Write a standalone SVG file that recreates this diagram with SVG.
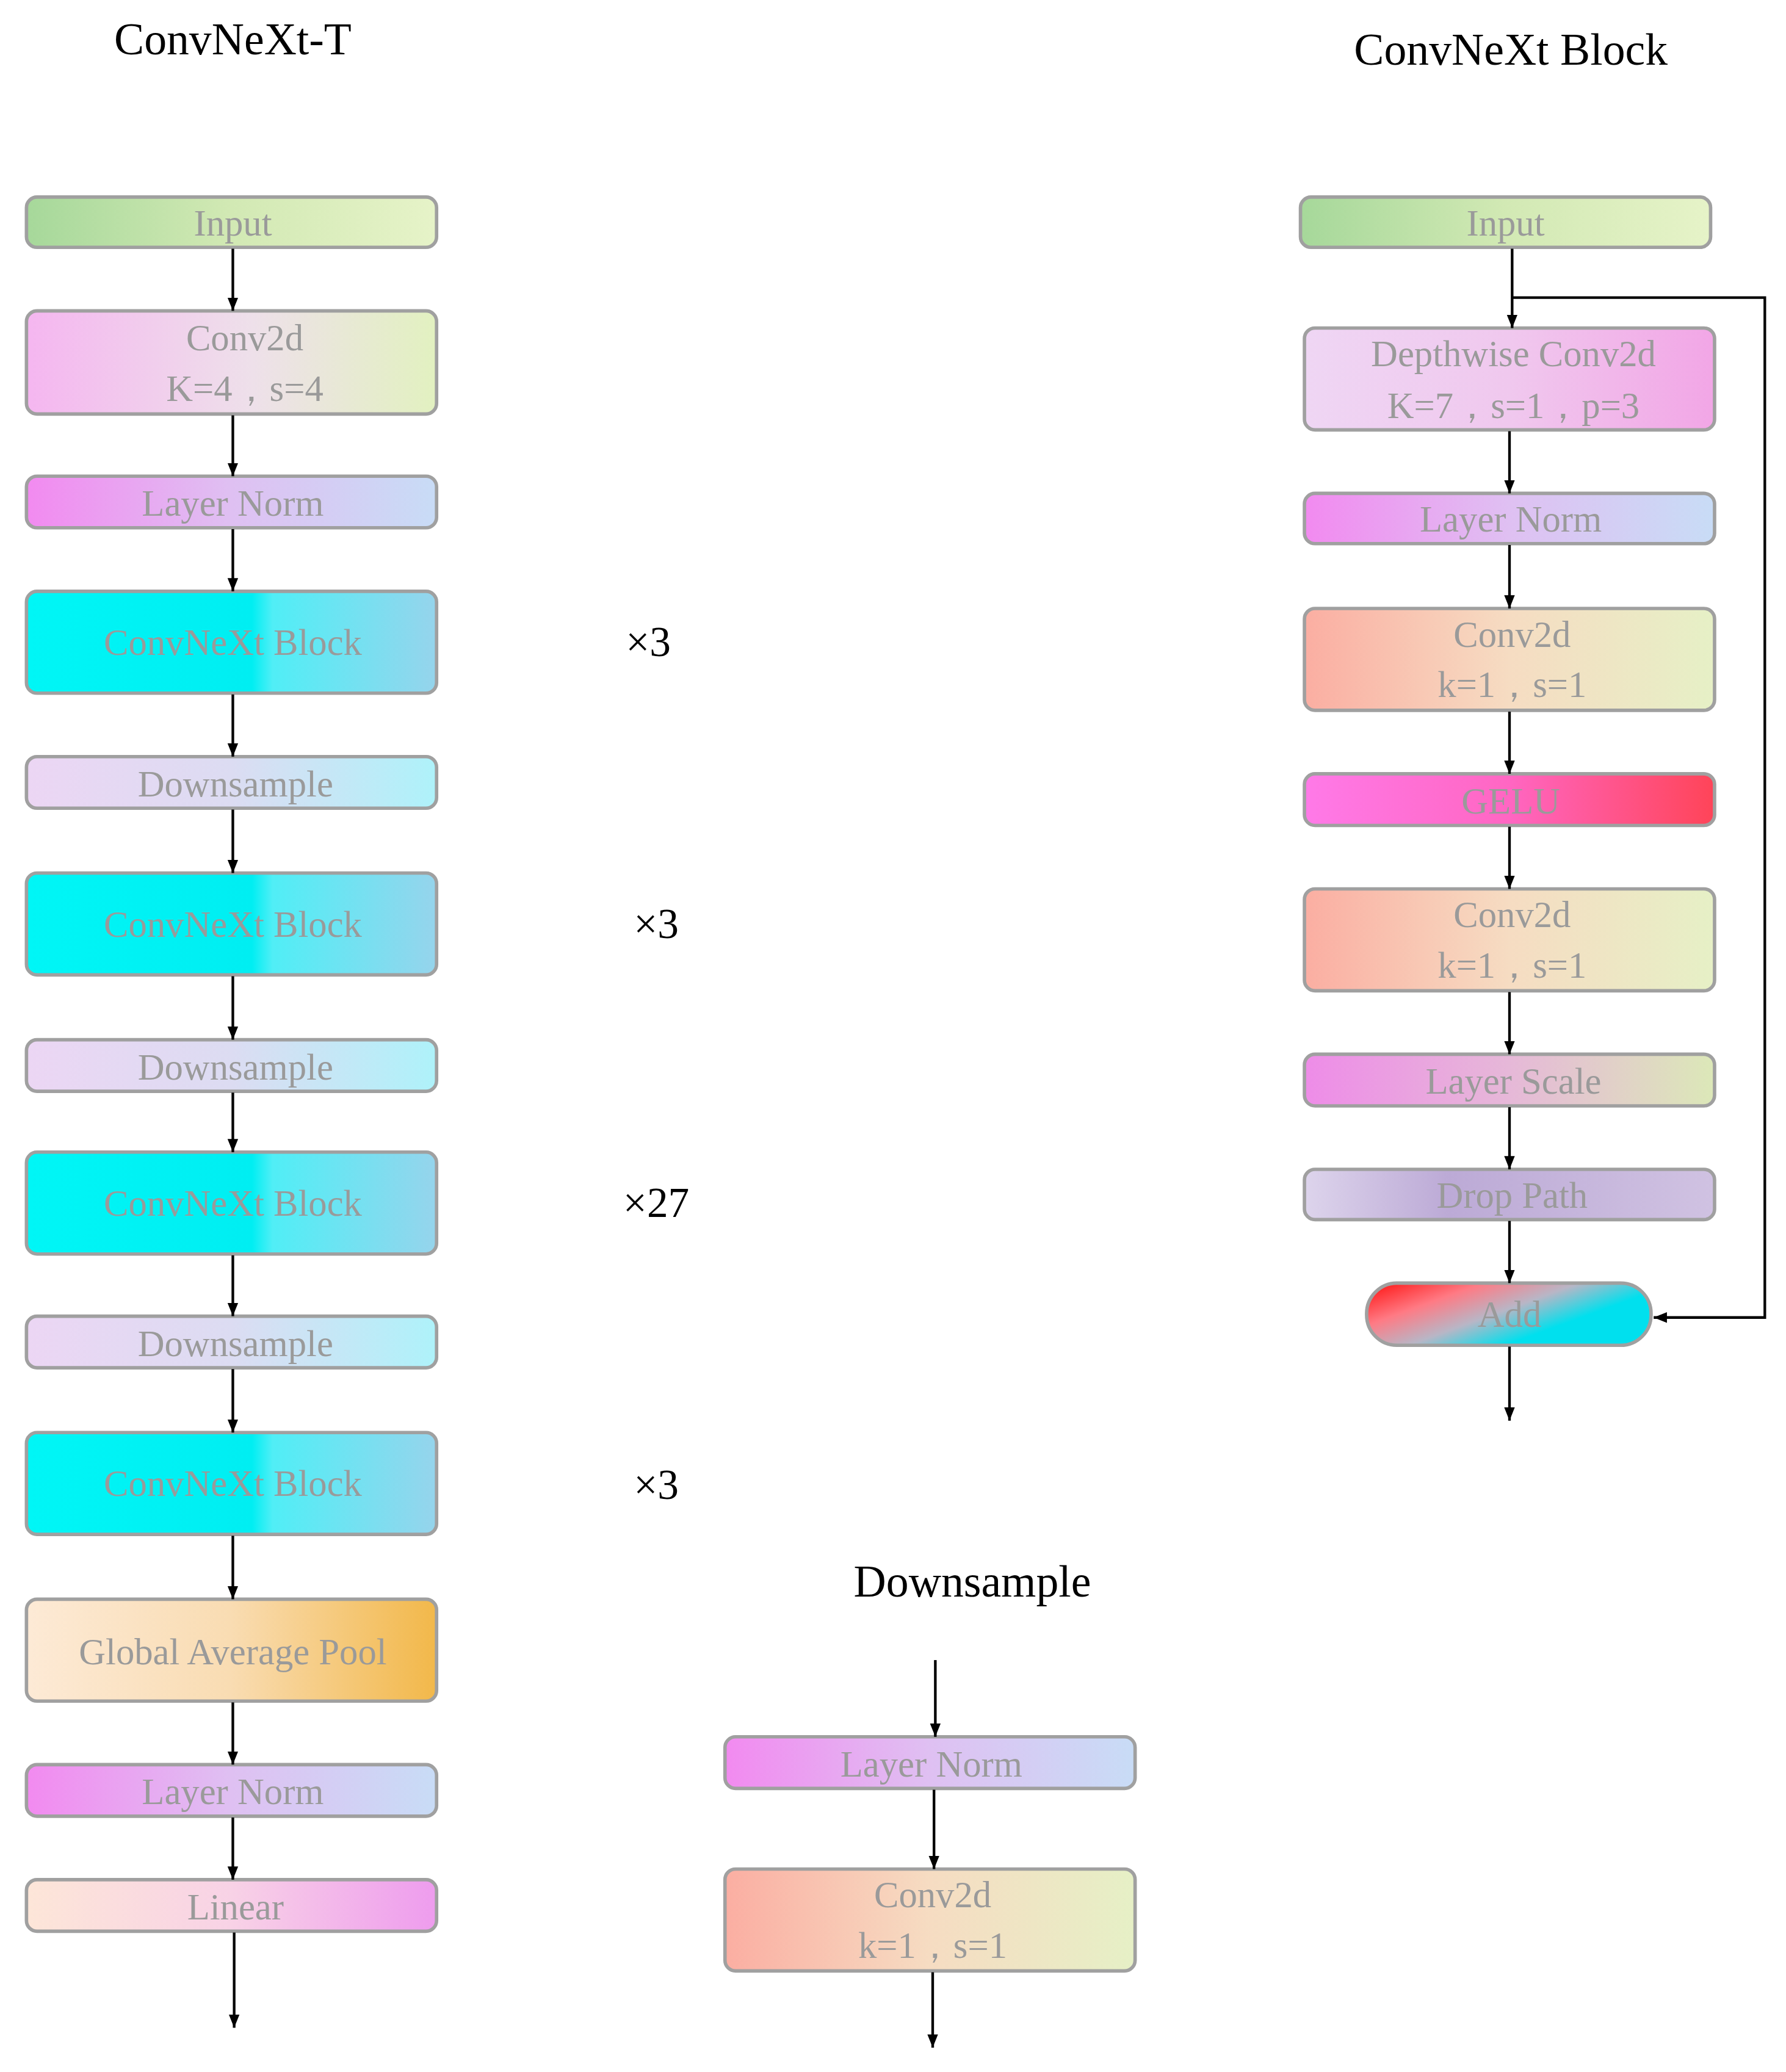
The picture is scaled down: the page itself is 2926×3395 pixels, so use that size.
<svg xmlns="http://www.w3.org/2000/svg" width="2926" height="3395" viewBox="0 0 2926 3395">
<defs>
<linearGradient id="gIn"><stop offset="0" stop-color="#a6d89a"/><stop offset="0.5" stop-color="#d2e9b4"/><stop offset="1" stop-color="#e6f3c8"/></linearGradient>
<linearGradient id="gCv"><stop offset="0" stop-color="#f5b6f0"/><stop offset="0.55" stop-color="#eee0ea"/><stop offset="1" stop-color="#e2f1c0"/></linearGradient>
<linearGradient id="gLN"><stop offset="0" stop-color="#f28af0"/><stop offset="0.5" stop-color="#dfc0f2"/><stop offset="1" stop-color="#c8dcf6"/></linearGradient>
<linearGradient id="gCB"><stop offset="0" stop-color="#00f6f6"/><stop offset="0.55" stop-color="#00eef2"/><stop offset="0.6" stop-color="#50eef6"/><stop offset="1" stop-color="#96d4ec"/></linearGradient>
<linearGradient id="gDS"><stop offset="0" stop-color="#ecd6f4"/><stop offset="0.5" stop-color="#dcdcf2"/><stop offset="1" stop-color="#aef2fa"/></linearGradient>
<linearGradient id="gGAP"><stop offset="0" stop-color="#fdead6"/><stop offset="0.5" stop-color="#f9dcb2"/><stop offset="1" stop-color="#f2b84a"/></linearGradient>
<linearGradient id="gLin"><stop offset="0" stop-color="#fde6d8"/><stop offset="0.5" stop-color="#f8d2e6"/><stop offset="1" stop-color="#ee9cee"/></linearGradient>
<linearGradient id="gDW"><stop offset="0" stop-color="#efd6f4"/><stop offset="0.5" stop-color="#f0c8ee"/><stop offset="1" stop-color="#f2a6e6"/></linearGradient>
<linearGradient id="gC1"><stop offset="0" stop-color="#fbaea2"/><stop offset="0.5" stop-color="#f6dcc2"/><stop offset="1" stop-color="#e6f0c6"/></linearGradient>
<linearGradient id="gGE"><stop offset="0" stop-color="#ff7ae8"/><stop offset="0.5" stop-color="#ff66c2"/><stop offset="1" stop-color="#ff4458"/></linearGradient>
<linearGradient id="gLS"><stop offset="0" stop-color="#ee8ce8"/><stop offset="0.5" stop-color="#e6b8d8"/><stop offset="1" stop-color="#dce8b8"/></linearGradient>
<linearGradient id="gDP"><stop offset="0" stop-color="#ddd4ec"/><stop offset="0.35" stop-color="#bcaad6"/><stop offset="1" stop-color="#d0c2e2"/></linearGradient>
<linearGradient id="gAdd" x1="0" y1="0" x2="1" y2="0.6"><stop offset="0.05" stop-color="#ff2020"/><stop offset="0.3" stop-color="#ff7a84"/><stop offset="0.55" stop-color="#b8b6c6"/><stop offset="0.8" stop-color="#00e0ee"/></linearGradient>
<marker id="ar" viewBox="0 0 10 10" refX="10" refY="5" markerWidth="5" markerHeight="5" markerUnits="strokeWidth" orient="auto"><path d="M0,1 L10,5 L0,9 z" fill="#000"/></marker>
<style>
.b{stroke:#a0a0a0;stroke-width:2.6}
.t{font-family:"Liberation Serif",serif;font-size:28px;fill:#9a9a9a;text-anchor:middle}
.h{font-family:"Liberation Serif",serif;font-size:34px;fill:#000;text-anchor:middle}
.m{font-family:"Liberation Serif",serif;font-size:32px;fill:#000;text-anchor:middle}
.c{stroke:#000;stroke-width:2;fill:none;marker-end:url(#ar)}
</style>
</defs>
<rect width="2926" height="3395" fill="#fff"/>
<g transform="scale(2.1674)">
<text class="h" x="176" y="41">ConvNeXt-T</text>
<text class="h" x="1142" y="49">ConvNeXt Block</text>
<text class="h" x="735" y="1207">Downsample</text>
<text class="m" x="490" y="496">×3</text>
<text class="m" x="496" y="709">×3</text>
<text class="m" x="496" y="920">×27</text>
<text class="m" x="496" y="1133">×3</text>

<g id="l-input"><rect class="b" x="20" y="149" width="310" height="38" rx="8" fill="url(#gIn)"/><text class="t" x="176" y="178">Input</text></g>
<g id="l-conv"><rect class="b" x="20" y="235" width="310" height="78" rx="8" fill="url(#gCv)"/><text class="t" x="185" y="265">Conv2d</text><text class="t" x="185" y="303">K=4，s=4</text></g>
<g id="l-ln1"><rect class="b" x="20" y="360" width="310" height="39" rx="8" fill="url(#gLN)"/><text class="t" x="176" y="390">Layer Norm</text></g>
<g id="l-cb1"><rect class="b" x="20" y="447" width="310" height="77" rx="8" fill="url(#gCB)"/><text class="t" x="176" y="495">ConvNeXt Block</text></g>
<g id="l-ds1"><rect class="b" x="20" y="572" width="310" height="39" rx="8" fill="url(#gDS)"/><text class="t" x="178" y="602">Downsample</text></g>
<g id="l-cb2"><rect class="b" x="20" y="660" width="310" height="77" rx="8" fill="url(#gCB)"/><text class="t" x="176" y="708">ConvNeXt Block</text></g>
<g id="l-ds2"><rect class="b" x="20" y="786" width="310" height="39" rx="8" fill="url(#gDS)"/><text class="t" x="178" y="816">Downsample</text></g>
<g id="l-cb3"><rect class="b" x="20" y="871" width="310" height="77" rx="8" fill="url(#gCB)"/><text class="t" x="176" y="919">ConvNeXt Block</text></g>
<g id="l-ds3"><rect class="b" x="20" y="995" width="310" height="39" rx="8" fill="url(#gDS)"/><text class="t" x="178" y="1025">Downsample</text></g>
<g id="l-cb4"><rect class="b" x="20" y="1083" width="310" height="77" rx="8" fill="url(#gCB)"/><text class="t" x="176" y="1131">ConvNeXt Block</text></g>
<g id="l-gap"><rect class="b" x="20" y="1209" width="310" height="77" rx="8" fill="url(#gGAP)"/><text class="t" x="176" y="1258">Global Average Pool</text></g>
<g id="l-ln2"><rect class="b" x="20" y="1334" width="310" height="39" rx="8" fill="url(#gLN)"/><text class="t" x="176" y="1364">Layer Norm</text></g>
<g id="l-lin"><rect class="b" x="20" y="1421" width="310" height="39" rx="8" fill="url(#gLin)"/><text class="t" x="178" y="1451">Linear</text></g>

<g id="r-input"><rect class="b" x="983" y="149" width="310" height="38" rx="8" fill="url(#gIn)"/><text class="t" x="1138" y="178">Input</text></g>
<g id="r-dw"><rect class="b" x="986" y="248" width="310" height="77" rx="8" fill="url(#gDW)"/><text class="t" x="1144" y="277">Depthwise Conv2d</text><text class="t" x="1144" y="316">K=7，s=1，p=3</text></g>
<g id="r-ln"><rect class="b" x="986" y="373" width="310" height="38" rx="8" fill="url(#gLN)"/><text class="t" x="1142" y="402">Layer Norm</text></g>
<g id="r-c1"><rect class="b" x="986" y="460" width="310" height="77" rx="8" fill="url(#gC1)"/><text class="t" x="1143" y="489">Conv2d</text><text class="t" x="1143" y="527">k=1，s=1</text></g>
<g id="r-gelu"><rect class="b" x="986" y="585" width="310" height="39" rx="8" fill="url(#gGE)"/><text class="t" x="1142" y="615">GELU</text></g>
<g id="r-c2"><rect class="b" x="986" y="672" width="310" height="77" rx="8" fill="url(#gC1)"/><text class="t" x="1143" y="701">Conv2d</text><text class="t" x="1143" y="739">k=1，s=1</text></g>
<g id="r-ls"><rect class="b" x="986" y="797" width="310" height="39" rx="8" fill="url(#gLS)"/><text class="t" x="1144" y="827">Layer Scale</text></g>
<g id="r-dp"><rect class="b" x="986" y="884" width="310" height="38" rx="8" fill="url(#gDP)"/><text class="t" x="1143" y="913">Drop Path</text></g>
<g id="r-add"><rect class="b" x="1033" y="970" width="215" height="47" rx="23" fill="url(#gAdd)"/><text class="t" x="1141" y="1003">Add</text></g>

<g id="d-ln"><rect class="b" x="548" y="1313" width="310" height="39" rx="8" fill="url(#gLN)"/><text class="t" x="704" y="1343">Layer Norm</text></g>
<g id="d-conv"><rect class="b" x="548" y="1413" width="310" height="77" rx="8" fill="url(#gC1)"/><text class="t" x="705" y="1442">Conv2d</text><text class="t" x="705" y="1480">k=1，s=1</text></g>

<g id="connectors">
<path class="c" d="M176,188 V235"/>
<path class="c" d="M176,314 V360"/>
<path class="c" d="M176,400 V447"/>
<path class="c" d="M176,525 V572"/>
<path class="c" d="M176,612 V660"/>
<path class="c" d="M176,738 V786"/>
<path class="c" d="M176,826 V871"/>
<path class="c" d="M176,949 V995"/>
<path class="c" d="M176,1035 V1083"/>
<path class="c" d="M176,1161 V1209"/>
<path class="c" d="M176,1287 V1334"/>
<path class="c" d="M176,1374 V1421"/>
<path class="c" d="M177,1461 V1533"/>
<path class="c" d="M1143,188 V248"/>
<path class="c" d="M1143,225 H1334 V996 H1250"/>
<path class="c" d="M1141,326 V373"/>
<path class="c" d="M1141,412 V460"/>
<path class="c" d="M1141,538 V585"/>
<path class="c" d="M1141,625 V672"/>
<path class="c" d="M1141,750 V797"/>
<path class="c" d="M1141,837 V884"/>
<path class="c" d="M1141,923 V970"/>
<path class="c" d="M1141,1018 V1074"/>
<path class="c" d="M707,1255 V1313"/>
<path class="c" d="M706,1353 V1413"/>
<path class="c" d="M705,1491 V1548"/>
</g>
</g>
</svg>
